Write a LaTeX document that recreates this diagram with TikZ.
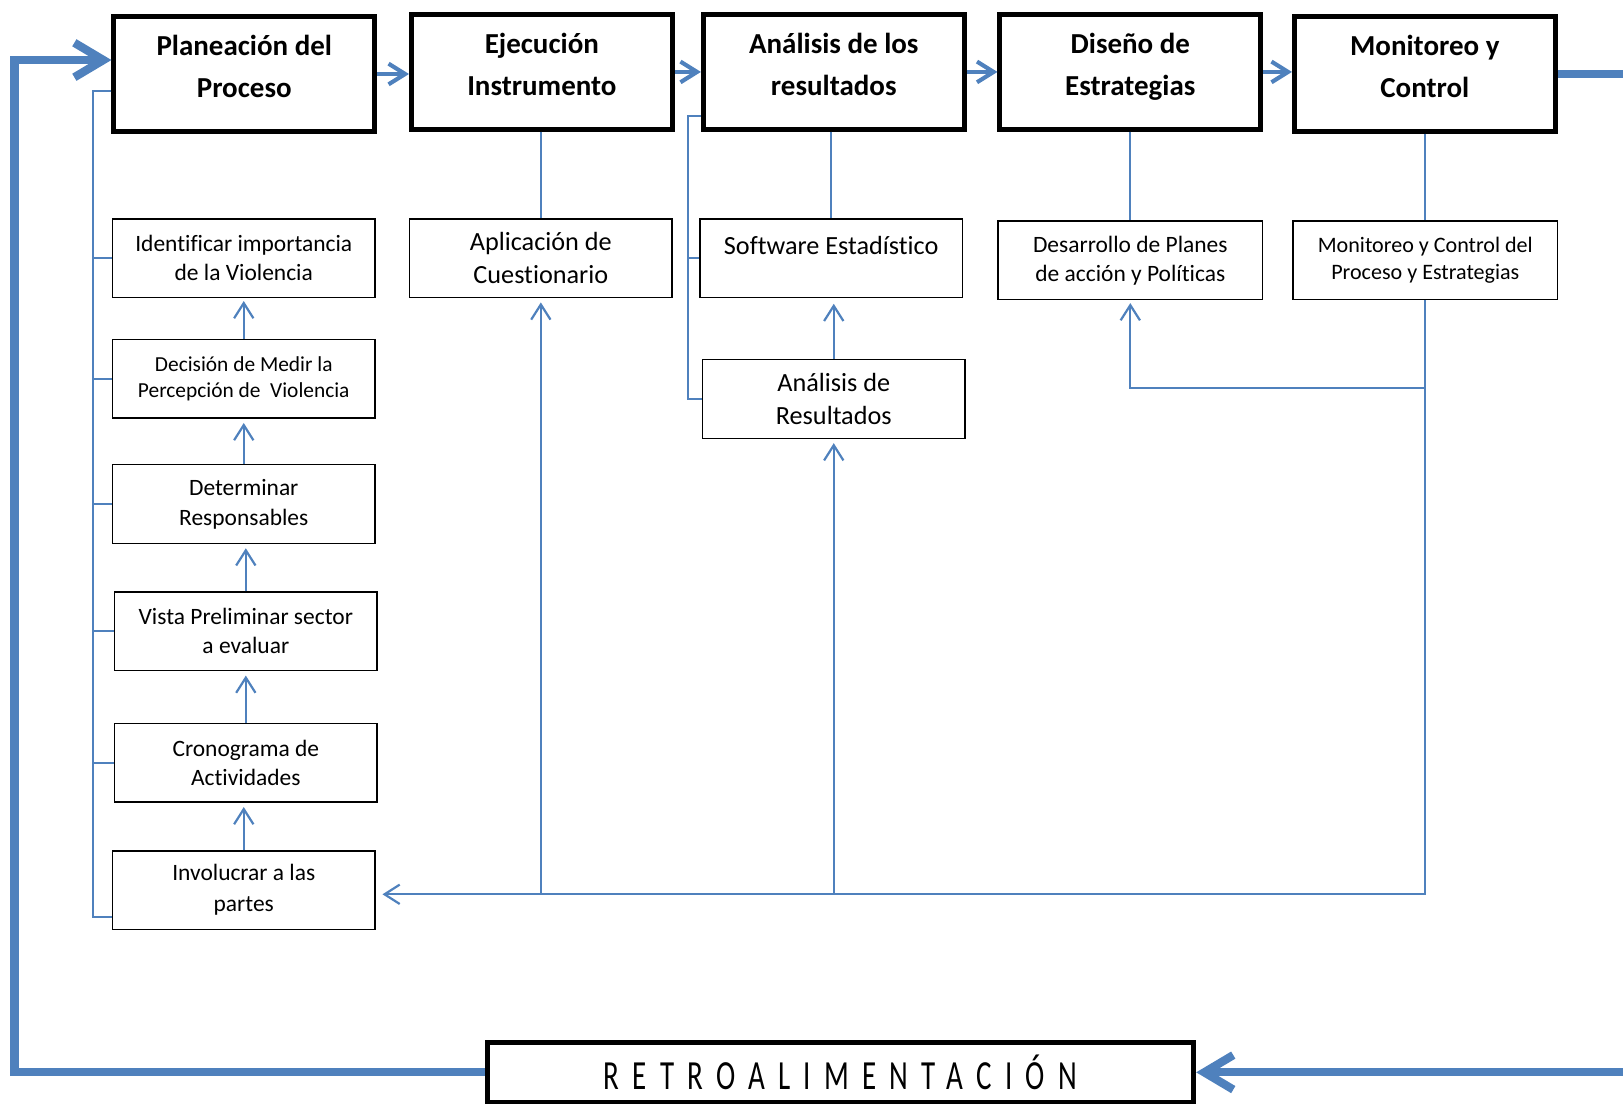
\documentclass[tikz,border=0pt]{standalone}
\usepackage{fontspec}
\setmainfont{Carlito}[Ligatures={TeX,NoCommon}]
\newfontfamily\retrofont[FakeStretch=0.7,LetterSpace=32,Ligatures=NoCommon]{Carlito}
\usetikzlibrary{arrows.meta}
\definecolor{azul}{HTML}{4F81BD}

\begin{document}
\begin{tikzpicture}[x=0.75pt, y=-0.75pt,
  fase/.style={draw, line width=3.5pt, minimum width=189pt, minimum height=83pt, align=center,
    font=\bfseries\fontsize{21}{30.75}\selectfont, text depth=11pt},
  paso/.style={draw, line width=1pt, minimum width=190pt, minimum height=57pt, align=center,
    font=\fontsize{17}{21}\selectfont},
  linea/.style={azul, line width=1.4pt},
  flecha/.style={azul, line width=1.6pt, -{Straight Barb[length=11pt, width=14pt]}},
  enlace/.style={azul, line width=3pt, -{Straight Barb[length=12pt, width=15pt]}},
  retro/.style={azul, line width=6pt, -{Straight Barb[length=21pt, width=25pt]}}]
\useasboundingbox (0,0) rectangle (1568,1069);
\clip (0,0) rectangle (1568,1069);

% fases
\node [fase] (plan) at (236,71.5) {Planeación del\\Proceso};
\node [fase] (ejec) at (523.5,69.5) {Ejecución\\Instrumento};
\node [fase] (anal) at (805.5,69.5) {Análisis de los\\resultados};
\node [fase] (dise) at (1092,69.5) {Diseño de\\Estrategias};
\node [fase] (moni) at (1376.5,71.5) {Monitoreo y\\Control};
\draw [enlace] (plan.east) -- (plan.east -| ejec.west);
\draw [enlace] (ejec.east) -- (ejec.east -| anal.west);
\draw [enlace] (anal.east) -- (anal.east -| dise.west);
\draw [enlace] (dise.east) -- (dise.east -| moni.west);

% pasos de la planeacion
\node [paso] (iden) at (235.5,249.5) {Identificar importancia\\de la Violencia};
\node [paso, font=\fontsize{15.5}{18.75}\selectfont] (deci) at (235.5,366) {Decisión de Medir la\\Percepción de \ Violencia};
\node [paso, font=\fontsize{17}{22}\selectfont] (dete) at (235.5,487) {Determinar\\Responsables};
\node [paso] (vist) at (237.5,610) {Vista Preliminar sector\\a evaluar};
\node [paso] (cron) at (237.5,737) {Cronograma de\\Actividades};
\node [paso, font=\fontsize{17}{22.5}\selectfont] (invo) at (235.5,860) {Involucrar a las\\partes};
\draw [flecha, shorten >=3pt] (invo.north) -- (invo.north |- cron.south);
\draw [flecha, shorten >=3pt] (cron.north) -- (cron.north |- vist.south);
\draw [flecha, shorten >=3pt] (vist.north) -- (vist.north |- dete.south);
\draw [flecha, shorten >=3pt] (dete.north) -- (dete.north |- deci.south);
\draw [flecha, shorten >=2pt] (deci.north) -- (deci.north |- iden.south);
\coordinate (bp) at (90,88);
\draw [linea] (plan.west |- bp) -- (bp) |- ([yshift=-19.5pt]invo.west);
\draw [linea] (bp |- iden.west) -- (iden.west);
\draw [linea] (bp |- deci.west) -- (deci.west);
\draw [linea] (bp |- dete.west) -- (dete.west);
\draw [linea] (bp |- vist.west) -- (vist.west);
\draw [linea] (bp |- cron.west) -- (cron.west);

% ejecucion y analisis
\node [paso, font=\fontsize{19}{24}\selectfont] (apli) at (522.5,249.5) {Aplicación de\\Cuestionario};
\node [paso, font=\fontsize{19}{24}\selectfont, text depth=19pt] (soft) at (803,249.5) {Software Estadístico};
\node [paso, font=\fontsize{19}{24}\selectfont] (resu) at (805.5,385.5) {Análisis de\\Resultados};
\draw [linea] (ejec.south -| apli.north) -- (apli.north);
\draw [linea] (anal.south -| soft.north) -- (soft.north);
\draw [flecha, shorten >=4pt] (resu.north) -- (resu.north |- soft.south);
\coordinate (ba) at (665,112);
\draw [linea] (anal.west |- ba) -- (ba) |- (resu.west);
\draw [linea] (ba |- soft.west) -- (soft.west);

% estrategias y monitoreo
\node [paso, minimum width=192pt] (desa) at (1092,251.5) {Desarrollo de Planes\\de acción y Políticas};
\node [paso, minimum width=192pt, font=\fontsize{16}{19.5}\selectfont] (moco) at (1377,251.5) {Monitoreo y Control del\\Proceso y Estrategias};
\draw [linea] (dise.south -| desa.north) -- (desa.north);
\draw [linea] (moni.south -| moco.north) -- (moco.north);
\draw [flecha, shorten >=2pt] (moco.south |- 0,375) -| (desa.south);

% linea de regreso
\coordinate (bus) at ([yshift=-3pt]invo.east);
\draw [flecha, shorten >=5pt] (moco.south) |- (bus);
\draw [flecha, shorten >=3pt] (apli.south |- bus) -- (apli.south);
\draw [flecha, shorten >=3pt] (resu.south |- bus) -- (resu.south);

% retroalimentacion
\node [draw, line width=3.5pt, minimum width=512pt, minimum height=43pt,
  font=\retrofont\fontsize{30}{30}\selectfont] (retro) at (812,1036) {RETROALIMENTACIÓN};
\draw [retro] (moni.east) -- ++(120,0) |- (retro.east);
\draw [retro] (retro.west) -| (14,58) -- (plan.west |- 14,58);
\end{tikzpicture}
\end{document}
